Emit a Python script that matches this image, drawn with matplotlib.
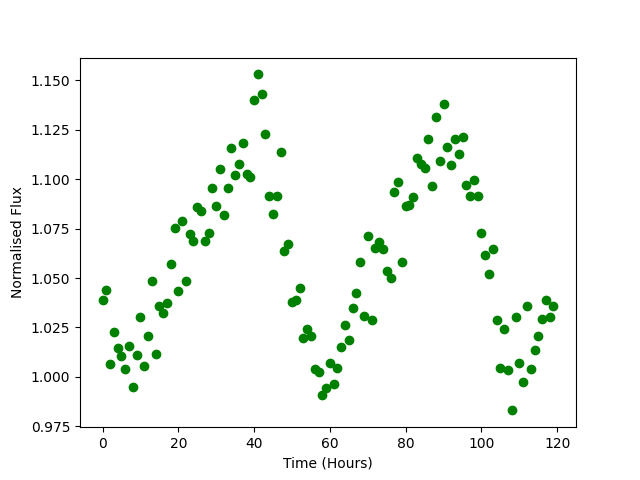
import matplotlib
matplotlib.use("Agg")
import matplotlib.pyplot as plt

hours = list(range(120))
flux = [
    1.0391, 1.0441, 1.0064, 1.0229, 1.0144, 1.0104, 1.0042, 1.0155, 0.9951, 1.0109,
    1.0305, 1.0053, 1.0205, 1.0487, 1.0114, 1.0360, 1.0325, 1.0376, 1.0573, 1.0755,
    1.0436, 1.0790, 1.0487, 1.0720, 1.0689, 1.0861, 1.0841, 1.0689, 1.0725, 1.0957,
    1.0866, 1.1053, 1.0816, 1.0957, 1.1155, 1.1023, 1.1074, 1.1180, 1.1028, 1.1008,
    1.1402, 1.1529, 1.1428, 1.1230, 1.0912, 1.0821, 1.0912, 1.1139, 1.0639, 1.0674,
    1.0381, 1.0391, 1.0451, 1.0199, 1.0244, 1.0209, 1.0042, 1.0027, 0.9910, 0.9946,
    1.0072, 0.9962, 1.0047, 1.0153, 1.0264, 1.0188, 1.0350, 1.0426, 1.0583, 1.0310,
    1.0714, 1.0290, 1.0654, 1.0684, 1.0649, 1.0536, 1.0502, 1.0937, 1.0983, 1.0583,
    1.0864, 1.0869, 1.0907, 1.1109, 1.1074, 1.1058, 1.1205, 1.0967, 1.1316, 1.1089,
    1.1377, 1.1160, 1.1069, 1.1203, 1.1129, 1.1215, 1.0972, 1.0917, 1.0994, 1.0912,
    1.0725, 1.0618, 1.0522, 1.0649, 1.0286, 1.0047, 1.0241, 1.0037, 0.9831, 1.0305,
    1.0072, 0.9976, 1.0360, 1.0042, 1.0138, 1.0209, 1.0295, 1.0391, 1.0305, 1.0360,
]

fig, ax = plt.subplots(figsize=(6.4, 4.8), dpi=100)
ax.plot(hours, flux, 'go')
ax.set_xlabel('Time (Hours)')
ax.set_ylabel('Normalised Flux')
fig.savefig('out.png')
